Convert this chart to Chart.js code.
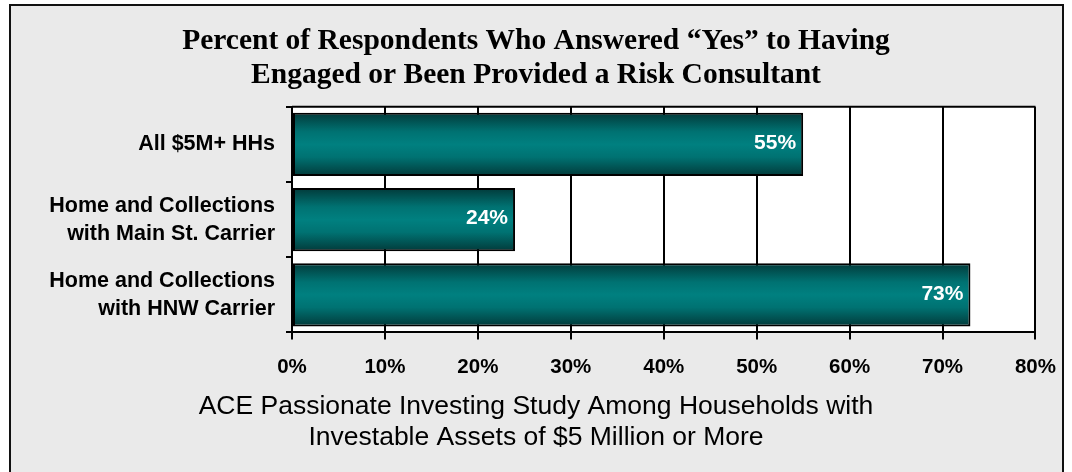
<!DOCTYPE html>
<html>
<head>
<meta charset="utf-8">
<script src="https://cdn.jsdelivr.net/npm/chart.js@4"></script>
<style>
  html, body { margin: 0; padding: 0; background: #fff; }
  canvas { display: block; }
</style>
</head>
<body>
<canvas id="myChart" width="1072" height="472"></canvas>
<script>
const categories = [
  ["All $5M+ HHs"],
  ["Home and Collections", "with Main St. Carrier"],
  ["Home and Collections", "with HNW Carrier"],
];
const yesPercent = [55, 24, 73];
const titleLines = [
  "Percent of Respondents Who Answered \u201cYes\u201d to Having",
  "Engaged or Been Provided a Risk Consultant",
];
const captionLines = [
  "ACE Passionate Investing Study Among Households with",
  "Investable Assets of $5 Million or More",
];

const SANS = "'Liberation Sans', Arial, sans-serif";
const SERIF = "'Liberation Serif', 'Times New Roman', serif";
const BAR_PCT = 0.84;

// vertical teal gradient per bar, taken from the y scale
function barFill(ctx) {
  const chart = ctx.chart;
  const area = chart.chartArea;
  if (!area) return "#008080";
  const y = chart.scales.y;
  const mid = y.getPixelForValue(ctx.dataIndex);
  const half = (area.bottom - area.top) / categories.length * BAR_PCT / 2;
  const g = chart.ctx.createLinearGradient(0, mid - half, 0, mid + half);
  g.addColorStop(0, "#023a3a");
  g.addColorStop(0.3, "#007272");
  g.addColorStop(0.5, "#008080");
  g.addColorStop(0.7, "#007272");
  g.addColorStop(1, "#023a3a");
  return g;
}

const backdrop = {
  id: "backdrop",
  beforeDraw(chart) {
    const c = chart.ctx;
    const a = chart.chartArea;
    c.save();
    c.fillStyle = "#ffffff";
    c.fillRect(0, 0, chart.width, chart.height);
    c.fillStyle = "#eaeaea";
    c.fillRect(10, 5, 1053, chart.height);
    c.strokeStyle = "#111";
    c.lineWidth = 2;
    c.strokeRect(10, 5, 1053, chart.height + 10);
    c.fillStyle = "#ffffff";
    c.fillRect(a.left, a.top, a.right - a.left, a.bottom - a.top);
    c.restore();
  },
  afterDraw(chart) {
    // top edge of the plot box
    const c = chart.ctx;
    const a = chart.chartArea;
    c.save();
    c.strokeStyle = "#000";
    c.lineWidth = 2;
    c.beginPath();
    c.moveTo(a.left, a.top);
    c.lineTo(a.right, a.top);
    c.stroke();
    c.restore();
  },
};

const valueLabels = {
  id: "valueLabels",
  afterDatasetsDraw(chart) {
    const c = chart.ctx;
    const meta = chart.getDatasetMeta(0);
    c.save();
    c.fillStyle = "#ffffff";
    c.font = "bold 21px " + SANS;
    c.textAlign = "right";
    c.textBaseline = "middle";
    meta.data.forEach((bar, i) => {
      c.fillText(yesPercent[i] + "%", bar.x - 7, bar.y - 1);
    });
    c.restore();
  },
};

const ctx = document.getElementById("myChart").getContext("2d");
window.chart = new Chart(ctx, {
  type: "bar",
  data: {
    labels: categories,
    datasets: [
      {
        data: yesPercent,
        backgroundColor: barFill,
        borderColor: "#000",
        borderWidth: 2,
        borderSkipped: false,
        barPercentage: BAR_PCT,
        categoryPercentage: 1,
      },
    ],
  },
  options: {
    indexAxis: "y",
    responsive: false,
    animation: false,
    devicePixelRatio: 1,
    layout: { padding: { left: 36, right: 36, top: 0, bottom: 0 } },
    plugins: {
      legend: { display: false },
      tooltip: { enabled: false },
      title: {
        display: true,
        text: titleLines,
        color: "#000",
        font: { family: SERIF, size: 29.5, weight: "bold", lineHeight: 1.15 },
        padding: { top: 24, bottom: 15 },
      },
      subtitle: {
        display: true,
        position: "bottom",
        text: captionLines,
        color: "#000",
        font: { family: SANS, size: 26.5, weight: "normal", lineHeight: 1.2 },
        padding: { top: 8, bottom: 18 },
      },
    },
    scales: {
      x: {
        min: 0,
        max: 80,
        afterFit(scale) {
          scale.height = 50;
        },
        ticks: {
          stepSize: 10,
          color: "#000",
          padding: 16,
          font: { family: SANS, size: 20.5, weight: "bold" },
          callback: (v) => v + "%",
        },
        grid: { color: "#000", lineWidth: 2, tickLength: 7 },
        border: { color: "#000", width: 2 },
      },
      y: {
        afterFit(scale) {
          scale.width = 256;
        },
        ticks: {
          color: "#000",
          padding: 11,
          font: { family: SANS, size: 21.5, weight: "bold", lineHeight: 1.3 },
        },
        grid: {
          offset: true,
          drawOnChartArea: false,
          color: "#000",
          lineWidth: 2,
          tickLength: 6,
        },
        border: { color: "#000", width: 2 },
      },
    },
  },
  plugins: [backdrop, valueLabels],
});
</script>
</body>
</html>
